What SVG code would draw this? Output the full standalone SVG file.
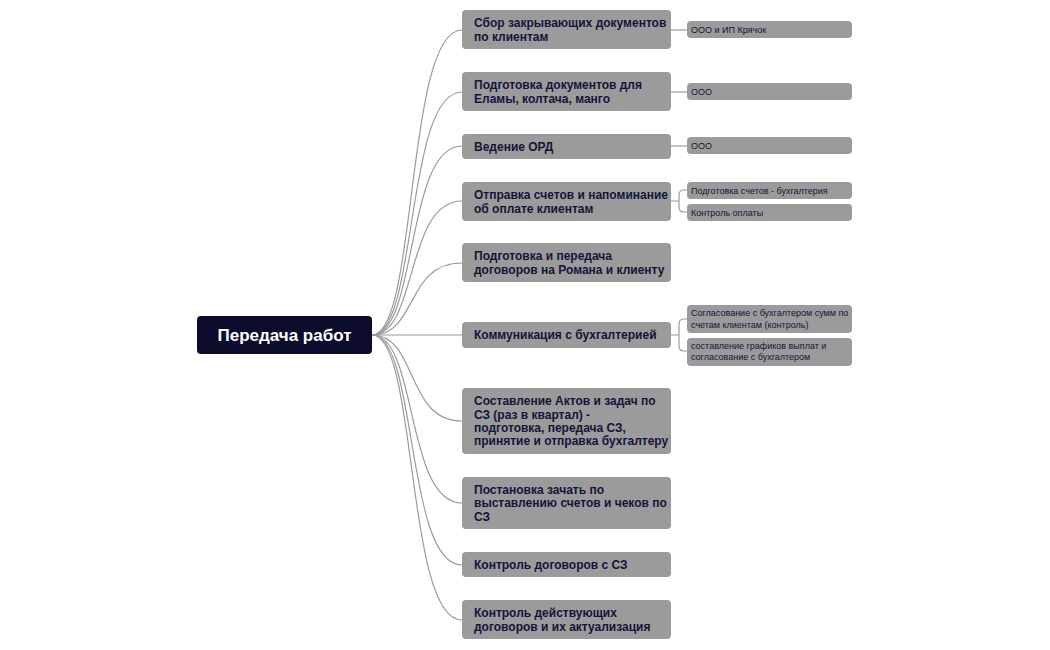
<svg xmlns="http://www.w3.org/2000/svg" width="1050" height="650" viewBox="0 0 1050 650">
<style>
.m{fill:#9b9b9b}
.t{font-family:"Liberation Sans",Arial,sans-serif;font-weight:bold;font-size:12px;fill:#14143a}
.s{font-family:"Liberation Sans",Arial,sans-serif;font-size:9px;fill:#14143a}
.c path{fill:none;stroke:#9a9a9a;stroke-width:1.2}
</style>
<rect width="1050" height="650" fill="#fff"/>
<g class="c">
<path d="M372 335 C418 335 405 30 462 30"/>
<path d="M372 335 C418 335 405 92 462 92"/>
<path d="M372 335 C418 335 405 146 462 146"/>
<path d="M372 335 C418 335 405 201 462 201"/>
<path d="M372 335 C418 335 405 263 462 263"/>
<path d="M372 335 C418 335 405 335 462 335"/>
<path d="M372 335 C418 335 405 421 462 421"/>
<path d="M372 335 C418 335 405 503 462 503"/>
<path d="M372 335 C418 335 405 565 462 565"/>
<path d="M372 335 C418 335 405 620 462 620"/>
<path d="M671 30 H687"/>
<path d="M671 92 H687"/>
<path d="M671 146 H687"/>
<path d="M671 201 H679 M687 190 H684 Q679 190 679 195 V207 Q679 212 684 212 H687"/>
<path d="M671 335 H679 M687 319 H684 Q679 319 679 324 V346 Q679 351 684 351 H687"/>
</g>
<g id="root"><rect x="197" y="316" width="175" height="38" rx="4" fill="#0b0b2b"/><text x="284.5" y="341" text-anchor="middle" font-family="Liberation Sans,Arial,sans-serif" font-weight="bold" font-size="17" fill="#fff">Передача работ</text></g>
<g id="n1"><rect class="m" x="462" y="10" width="209" height="39" rx="4"/><text class="t" x="474" y="27">Сбор закрывающих документов</text><text class="t" x="474" y="41">по клиентам</text></g>
<g id="n2"><rect class="m" x="462" y="72" width="209" height="39" rx="4"/><text class="t" x="474" y="89">Подготовка документов для</text><text class="t" x="474" y="103">Еламы, колтача, манго</text></g>
<g id="n3"><rect class="m" x="462" y="134" width="209" height="25" rx="4"/><text class="t" x="474" y="151">Ведение ОРД</text></g>
<g id="n4"><rect class="m" x="462" y="182" width="209" height="39" rx="4"/><text class="t" x="474" y="199">Отправка счетов и напоминание</text><text class="t" x="474" y="213">об оплате клиентам</text></g>
<g id="n5"><rect class="m" x="462" y="243" width="209" height="39" rx="4"/><text class="t" x="474" y="260">Подготовка и передача</text><text class="t" x="474" y="274">договоров на Романа и клиенту</text></g>
<g id="n6"><rect class="m" x="462" y="322" width="209" height="26" rx="4"/><text class="t" x="474" y="339">Коммуникация с бухгалтерией</text></g>
<g id="n7"><rect class="m" x="462" y="388" width="209" height="66" rx="4"/><text class="t" x="474" y="405">Составление Актов и задач по</text><text class="t" x="474" y="419">СЗ (раз в квартал) -</text><text class="t" x="474" y="432">подготовка, передача СЗ,</text><text class="t" x="474" y="445">принятие и отправка бухгалтеру</text></g>
<g id="n8"><rect class="m" x="462" y="477" width="209" height="52" rx="4"/><text class="t" x="474" y="494">Постановка зачать по</text><text class="t" x="474" y="507">выставлению счетов и чеков по</text><text class="t" x="474" y="521">СЗ</text></g>
<g id="n9"><rect class="m" x="462" y="552" width="209" height="25" rx="4"/><text class="t" x="474" y="569">Контроль договоров с СЗ</text></g>
<g id="n10"><rect class="m" x="462" y="600" width="209" height="39" rx="4"/><text class="t" x="474" y="617">Контроль действующих</text><text class="t" x="474" y="631">договоров и их актуализация</text></g>
<g id="s1"><rect class="m" x="687" y="21" width="165" height="17" rx="4"/><text class="s" x="691" y="33">ООО и ИП Крячок</text></g>
<g id="s2"><rect class="m" x="687" y="83" width="165" height="17" rx="4"/><text class="s" x="691" y="95">ООО</text></g>
<g id="s3"><rect class="m" x="687" y="137" width="165" height="17" rx="4"/><text class="s" x="691" y="149">ООО</text></g>
<g id="s4a"><rect class="m" x="687" y="182" width="165" height="17" rx="4"/><text class="s" x="691" y="194">Подготовка счетов - бухгалтерия</text></g>
<g id="s4b"><rect class="m" x="687" y="204" width="165" height="17" rx="4"/><text class="s" x="691" y="216">Контроль оплаты</text></g>
<g id="s6a"><rect class="m" x="687" y="305" width="165" height="28" rx="4"/><text class="s" x="691" y="316">Согласование с бухгалтером сумм по</text><text class="s" x="691" y="328">счетам клиентам (контроль)</text></g>
<g id="s6b"><rect class="m" x="687" y="338" width="165" height="28" rx="4"/><text class="s" x="691" y="349">составление графиков выплат и</text><text class="s" x="691" y="360">согласование с бухгалтером</text></g>
</svg>
